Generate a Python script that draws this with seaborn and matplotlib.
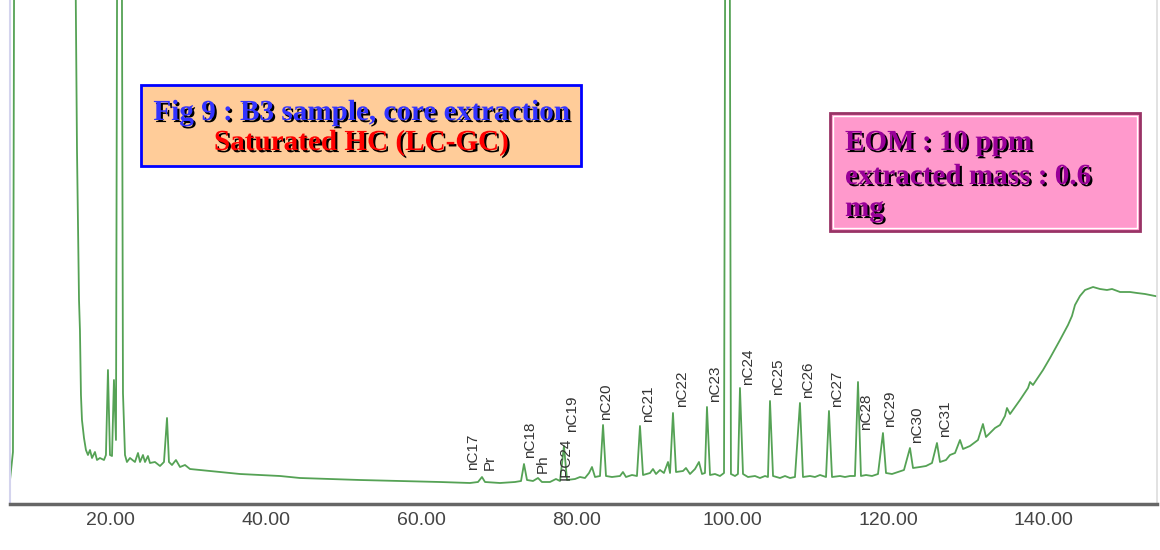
import matplotlib
matplotlib.use('Agg')
import seaborn as sns
from matplotlib import pyplot as plt
from matplotlib import patches
import matplotlib.patheffects as pe

#########################################################################################################################################
# chromatogram trace (retention time in min, detector response in arbitrary units)
rt = [7.15, 7.53, 7.79, 15.37, 15.50, 15.76, 16.02, 16.14, 16.27, 16.40, 16.66, 16.91, 17.17, 17.43, 17.69,
      18.07, 18.33, 18.71, 19.23, 19.48, 19.74, 20.00, 20.26, 20.51, 20.77, 21.03, 21.41, 21.67, 21.93, 22.18,
      22.57, 23.21, 23.60, 23.86, 24.24, 24.50, 24.88, 25.14, 25.78, 26.43, 26.94, 27.33, 27.58, 27.97, 28.48,
      29.00, 29.64, 30.28, 31.57, 34.14, 36.71, 39.28, 41.85, 44.42, 48.28, 52.13, 57.27, 62.41, 66.27, 67.30,
      67.81, 68.20, 70.13, 72.05, 72.83, 73.21, 73.60, 74.37, 75.01, 75.52, 76.55, 77.32, 77.84, 78.35, 78.74,
      79.77, 80.41, 81.05, 81.57, 81.95, 82.34, 82.98, 83.37, 83.75, 84.52, 85.55, 85.93, 86.32, 87.09, 87.73,
      88.12, 88.51, 89.41, 89.79, 90.18, 90.69, 91.20, 91.72, 91.98, 92.36, 92.75, 93.65, 94.03, 94.55, 95.19,
      95.70, 96.09, 96.47, 96.73, 97.12, 97.76, 98.40, 98.92, 99.17, 99.56, 99.81, 100.33, 100.71, 100.97, 101.36,
      102.00, 102.90, 103.54, 104.19, 104.57, 104.83, 105.22, 106.11, 106.76, 107.40, 108.04, 108.68, 109.07, 109.97, 110.61,
      111.26, 112.03, 112.41, 112.80, 113.83, 114.47, 115.11, 115.75, 116.14, 116.52, 117.17, 117.94, 118.71, 119.35, 119.74,
      120.51, 121.28, 122.05, 122.82, 123.21, 124.11, 124.88, 125.65, 126.29, 126.68, 127.45, 127.96, 128.61, 129.25, 129.64,
      130.53, 131.56, 132.20, 132.59, 133.75, 134.39, 135.03, 135.29, 135.68, 136.96, 137.99, 138.25, 138.63, 139.92, 140.82,
      142.10, 143.13, 143.64, 144.03, 144.67, 145.32, 146.35, 147.24, 148.14, 148.79, 149.82, 151.10, 152.00, 153.03, 153.67,
      154.96]
response = [20, 48, 900, 900, 600, 350, 200, 170, 105, 80, 62, 50, 45, 50, 42,
            48, 40, 42, 40, 45, 130, 45, 44, 120, 60, 900, 900, 107, 45, 38,
            42, 38, 47, 38, 45, 38, 44, 37, 38, 34, 38, 82, 38, 35, 40,
            33, 35, 31, 30, 28, 26, 25, 24, 22, 21, 20, 19, 18, 17, 18,
            23, 18, 17, 18, 19, 36, 20, 19, 22, 18, 18, 21, 19, 54, 20,
            21, 23, 22, 27, 33, 23, 24, 75, 24, 23, 24, 28, 23, 25, 24,
            74, 25, 27, 31, 26, 30, 27, 38, 27, 87, 28, 29, 32, 26, 31,
            38, 26, 27, 93, 25, 26, 24, 27, 900, 900, 26, 24, 26, 112, 26,
            23, 24, 22, 24, 23, 99, 24, 22, 24, 22, 23, 97, 23, 24, 23,
            25, 23, 89, 23, 24, 23, 24, 24, 118, 24, 25, 24, 26, 67, 27,
            26, 28, 30, 52, 32, 33, 34, 37, 57, 38, 40, 45, 47, 60, 51,
            54, 60, 76, 63, 72, 75, 84, 92, 86, 100, 112, 118, 115, 130, 142,
            160, 175, 184, 195, 204, 210, 213, 211, 210, 211, 208, 208, 207, 206, 205,
            203]

# peak labels (name, retention time of label, response where label starts)
peak_names = ['nC17', 'Pr', 'nC18', 'Ph', 'IPC24', 'nC19', 'nC20', 'nC21', 'nC22', 'nC23',
              'nC24', 'nC25', 'nC26', 'nC27', 'nC28', 'nC29', 'nC30', 'nC31']
label_rt = [66.70, 68.75, 73.95, 75.60, 78.60, 79.40, 83.76, 89.15, 93.52, 97.76,
            102.00, 105.86, 109.71, 113.44, 117.17, 120.25, 123.72, 127.32]
label_base = [30, 30, 42, 27, 20, 68, 80, 78, 93, 98,
              115, 105, 102, 93, 70, 73, 57, 63]

x_ticks = [20, 40, 60, 80, 100, 120, 140]
x_tick_labels = ['20.00', '40.00', '60.00', '80.00', '100.00', '120.00', '140.00']

title_lines = ['Fig 9 : B3 sample, core extraction', 'Saturated HC (LC-GC)']
info_lines = ['EOM : 10 ppm', 'extracted mass : 0.6', 'mg']
#########################################################################################################################################

sns.set_style('white')
plt.rcParams['font.family'] = ['Liberation Sans', 'DejaVu Sans']

fig = plt.figure(figsize=(11.6, 5.5), dpi=100)
ax = fig.add_axes([10 / 1160, 1 - 504 / 550, 1147 / 1160, 504 / 550])

sns.lineplot(x=rt, y=response, ax=ax, color='#55a255', linewidth=1.3, estimator=None, sort=False)

ax.set_xlim(7.15, 154.57)
ax.set_ylim(-4, 500)
ax.set_xticks(x_ticks)
ax.set_xticklabels(x_tick_labels, fontsize=14, color='#444444')
ax.tick_params(axis='x', length=0, pad=6)
ax.set_yticks([])
ax.set_xlabel('')
ax.set_ylabel('')

ax.spines['top'].set_visible(False)
ax.spines['bottom'].set_color('#666666')
ax.spines['bottom'].set_linewidth(2.5)
ax.spines['left'].set_color('#d4d4ee')
ax.spines['left'].set_linewidth(1.5)
ax.spines['right'].set_color('#dddddd')
ax.spines['right'].set_linewidth(1.2)

for name, x, y in zip(peak_names, label_rt, label_base):
    ax.text(x, y, name, rotation=90, ha='center', va='bottom', fontsize=11, color='#333333')

#########################################################################################################################################
# annotation boxes
shadow = [pe.withSimplePatchShadow(offset=(1.5, -1.5), shadow_rgbFace='black', alpha=1.0)]

fig.add_artist(patches.Rectangle((141 / 1160, 1 - 166 / 550), 440 / 1160, 81 / 550, transform=fig.transFigure,
                                 facecolor='#ffcc99', edgecolor='#0000ff', linewidth=2))
fig.text(361 / 1160, 1 - 120 / 550, title_lines[0], ha='center', va='baseline', fontsize=21, fontweight='bold',
         family='Liberation Serif', color='#3333ff', path_effects=shadow)
fig.text(361 / 1160, 1 - 150 / 550, title_lines[1], ha='center', va='baseline', fontsize=21, fontweight='bold',
         family='Liberation Serif', color='#ff0000', path_effects=shadow)

fig.add_artist(patches.Rectangle((830 / 1160, 1 - 231 / 550), 310 / 1160, 118 / 550, transform=fig.transFigure,
                                 facecolor='#ff99cc', edgecolor='#993366', linewidth=2))
fig.add_artist(patches.Rectangle((833 / 1160, 1 - 228 / 550), 304 / 1160, 112 / 550, transform=fig.transFigure,
                                 facecolor='none', edgecolor='white', linewidth=1))
for line, base in zip(info_lines, [150, 184, 216]):
    fig.text(845 / 1160, 1 - base / 550, line, ha='left', va='baseline', fontsize=21, fontweight='bold',
             family='Liberation Serif', color='#990099', path_effects=shadow)

plt.savefig('out.png', dpi=100)
